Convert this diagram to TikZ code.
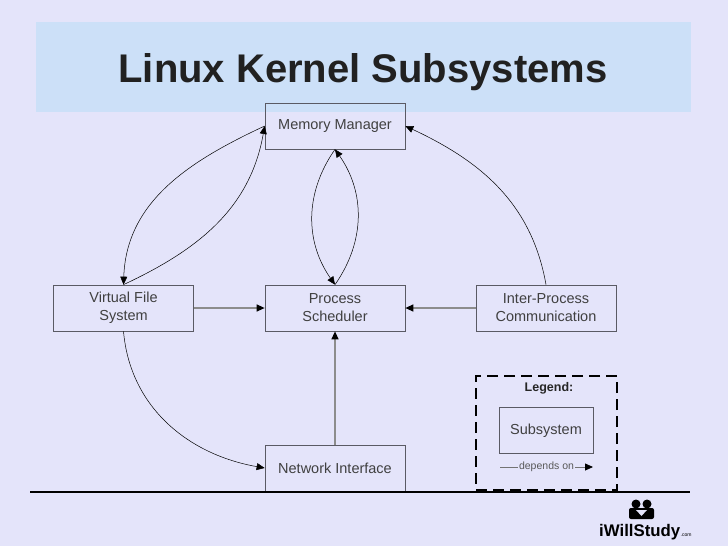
\documentclass[tikz,border=0pt]{standalone}
\usepackage{fontspec}
\setmainfont{Liberation Sans}
\usetikzlibrary{arrows.meta}
\definecolor{bg}{RGB}{228,228,250}
\definecolor{band}{RGB}{204,224,248}
\definecolor{boxline}{RGB}{90,90,100}
\begin{document}
\begin{tikzpicture}[x=1pt,y=-1pt,
  subsys/.style={draw=boxline,line width=0.7pt,minimum width=140pt,minimum height=46pt,inner sep=0pt,
    align=center,text=black!75,font=\fontsize{14.5}{18}\selectfont},
  tip/.style={-{Triangle[length=8pt,width=7pt,color=black]}},
  dep/.style={tip,draw=black!45,line width=1.2pt},
  bent/.style={tip,draw=black,line width=0.5pt}]
\fill[bg] (0,0) rectangle (728,546);
\fill[band] (36,22) rectangle (691,112);
\node[anchor=base,font=\fontsize{40}{48}\selectfont\bfseries,text=black!87] (title) at (363,82) {Linux Kernel Subsystems};
\node[subsys] (mm) at (335,126) {Memory Manager};
\node[subsys] (vfs) at (123.5,308) {Virtual File\\System};
\node[subsys] (ps) at (335,308) {Process\\Scheduler};
\node[subsys] (ipc) at (546,308) {Inter-Process\\Communication};
\node[subsys] (ni) at (335,468) {Network Interface};
\draw[dep] (vfs.east) -- (ps.west);
\draw[dep] (ipc.west) -- (ps.east);
\draw[dep] (ni.north) -- (ps.south);
\draw[bent] (mm.west) to[out=205,in=88] (vfs.north);
\draw[bent] (vfs.north) to[out=25,in=260] (mm.west);
\draw[bent] (mm.south) to[bend right=35] (ps.north);
\draw[bent] (ps.north) to[bend right=35] (mm.south);
\draw[bent] (ipc.north) to[out=100,in=-25] (mm.east);
\draw[bent] (vfs.south) to[out=-85,in=170] (ni.west);
% legend
\node[draw=black,line width=2.5pt,dash pattern=on 11pt off 6pt,minimum width=141pt,minimum height=114pt] (legend) at (546.5,433) {};
\node[font=\fontsize{12.5}{14}\selectfont\bfseries,text=black!85] (legtitle) at (549,388) {Legend:};
\node[subsys,minimum width=94pt] (sample) at (546,430.5) {Subsystem};
\coordinate (d1) at (500,467);
\coordinate (d2) at (593,467);
\draw[tip,draw=black!55,line width=0.8pt] (d1) -- node[fill=bg,inner sep=1pt,text=black!65,font=\fontsize{10.5}{12}\selectfont] (deptext) {depends on} (d2);
\coordinate (rl) at (30,492);
\coordinate (rr) at (690,492);
\draw[line width=1.3pt] (rl) -- (rr);
% logo
\fill (636,504) circle (4.5);
\fill (647,504) circle (4.5);
\fill[rounded corners=2pt] (629,508) rectangle (654,519);
\fill[bg] (636,510) -- (641.5,516) -- (647,510) -- cycle;
\node[anchor=base west,inner sep=0pt,font=\fontsize{16.8}{18}\selectfont\bfseries] (brand) at (599,536) {iWillStudy};
\node[anchor=base west,inner sep=0pt,font=\fontsize{5}{6}\selectfont] (brandcom) at (brand.base east) {.com};
\end{tikzpicture}
\end{document}
